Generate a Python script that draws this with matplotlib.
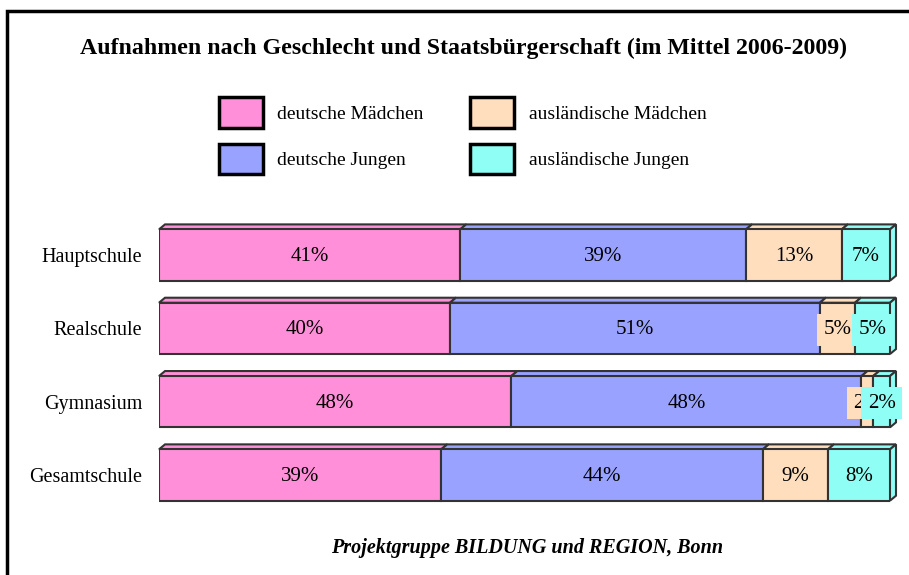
import matplotlib.pyplot as plt
from matplotlib.patches import Patch, Rectangle

# values per school type, in percent (order: deutsche Mädchen, deutsche Jungen,
# ausländische Mädchen, ausländische Jungen)
schools = ["Hauptschule", "Realschule", "Gymnasium", "Gesamtschule"]
deutsche_maedchen = [41.2, 39.8, 48.2, 38.6]
deutsche_jungen = [39.1, 50.6, 47.9, 44.0]
auslaend_maedchen = [13.1, 4.8, 1.6, 8.9]
auslaend_jungen = [6.6, 4.8, 2.3, 8.5]
labels = [
    ["41%", "39%", "13%", "7%"],
    ["40%", "51%", "5%", "5%"],
    ["48%", "48%", "2%", "2%"],
    ["39%", "44%", "9%", "8%"],
]
series_names = ["deutsche Mädchen", "deutsche Jungen",
                "ausländische Mädchen", "ausländische Jungen"]
colors = ["#FF8FD8", "#99A3FF", "#FFDEBE", "#8FFFF5"]

plt.rcParams["font.family"] = ["Liberation Serif", "DejaVu Serif"]

W, H = 909, 575
fig = plt.figure(figsize=(W / 100, H / 100), dpi=100)

# outer frame (only left and top visible in the picture)
fig.add_artist(Rectangle((7 / W, -0.05), 1.1, 1 - 11 / H + 0.05,
                         transform=fig.transFigure, fill=False,
                         edgecolor="black", lw=2.5, clip_on=False))

ax = fig.add_axes([159 / W, 1 - 511.7 / H, 731 / W, 293.3 / H])
ax.set_xlim(0, 100)
ax.set_ylim(3.5, -0.5)

series = [deutsche_maedchen, deutsche_jungen, auslaend_maedchen, auslaend_jungen]
bar_h = 0.70
dx = 6 / 731 * 100
dy = 5 / 73.3
edge = "#333333"

for i, name in enumerate(schools):
    left = 0.0
    for k, vals in enumerate(series):
        w = vals[i]
        ax.barh(i, w, left=left, height=bar_h, color=colors[k],
                edgecolor=edge, lw=1.5, zorder=2)
        top = i - bar_h / 2
        ax.fill([left, left + w, left + w + dx, left + dx],
                [top, top, top - dy, top - dy],
                facecolor=colors[k], edgecolor=edge, lw=1.5, zorder=1,
                clip_on=False)
        left += w
    # right side face of the last segment
    top = i - bar_h / 2
    ax.fill([left, left + dx, left + dx, left],
            [top, top - dy, top + bar_h - dy, top + bar_h],
            facecolor=colors[-1], edgecolor=edge, lw=1.5, zorder=1,
            clip_on=False)

# segment labels
for i in range(len(schools)):
    left = 0.0
    for k, vals in enumerate(series):
        w = vals[i]
        ax.text(left + w / 2, i + 0.02, labels[i][k], ha="center", va="center",
                fontsize=15, zorder=5,
                bbox=dict(boxstyle="square,pad=0.3", facecolor=colors[k],
                          edgecolor="none"))
        left += w

ax.set_yticks(range(len(schools)))
ax.set_yticklabels(schools, fontsize=14.5)
ax.tick_params(axis="y", length=0, pad=12)
ax.set_xticks([])
for s in ax.spines.values():
    s.set_visible(False)

fig.text(464 / W, 1 - 48 / H, "Aufnahmen nach Geschlecht und Staatsbürgerschaft (im Mittel 2006-2009)",
         ha="center", va="center", fontsize=17.2, fontweight="bold")

handles = [Patch(facecolor=c, edgecolor="black", lw=2.5) for c in colors]
fig.legend(handles, series_names, loc="upper left",
           bbox_to_anchor=(219 / W, 1 - 97.5 / H), ncol=2, frameon=False,
           fontsize=14, handlelength=2.25, handleheight=2.0,
           handletextpad=0.75, columnspacing=2.4, labelspacing=0.85,
           borderpad=0, borderaxespad=0)

fig.text(527 / W, 1 - 548 / H, "Projektgruppe BILDUNG und REGION, Bonn",
         ha="center", va="center", fontsize=14.5, fontweight="bold",
         style="italic")

fig.savefig("out.png", dpi=100)
